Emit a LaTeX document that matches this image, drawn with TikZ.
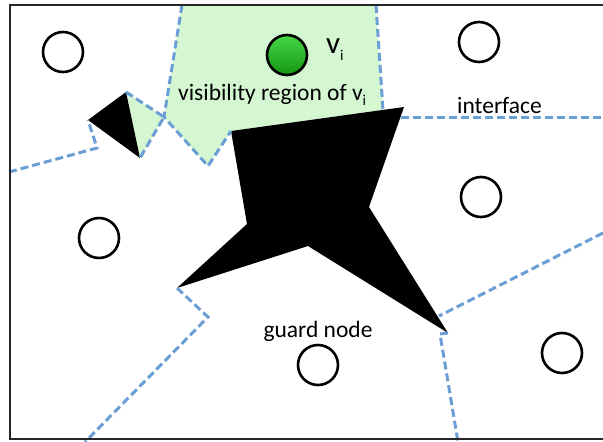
\documentclass[tikz,border=0pt]{standalone}
\usepackage{fontspec}
\setmainfont{Carlito}
\definecolor{ifblue}{RGB}{108,158,214}
\definecolor{visgreen}{RGB}{212,247,210}
\definecolor{guardtop}{RGB}{70,215,70}
\definecolor{guardbot}{RGB}{20,150,20}
% lowered subscript: size, drop, text
\newcommand{\lowsub}[3]{\raisebox{-#2}{\fontsize{#1}{#1}\selectfont #3}}
\begin{document}
\begin{tikzpicture}[x=1pt,y=-1pt,
  frameline/.style={draw=black!85, line width=2.6pt},
  iface/.style={draw=ifblue, line width=3pt, dash pattern=on 8pt off 4pt},
  obstacle/.style={fill=black},
  region/.style={fill=visgreen},
  site/.style={circle, draw=black, line width=2.6pt, minimum size=40pt, inner sep=0pt, fill=white},
  lbl/.style={font=\fontsize{23.5}{26}\selectfont, inner sep=0pt},
]
\useasboundingbox (0,0) rectangle (603,442);
\fill[white] (0,0) rectangle (603,442);

% shared vertices
\coordinate (gtl) at (182,5);
\coordinate (gtr) at (376,5);
\coordinate (gbr) at (383,110);
\coordinate (pa) at (231,131);
\coordinate (pb) at (404,107);
\coordinate (pc) at (369,207);
\coordinate (pd) at (448,333);
\coordinate (pe) at (308,246);
\coordinate (pf) at (177,288);
\coordinate (pg) at (247,224);
\coordinate (notch) at (208,166);
\coordinate (fork) at (164,117);
\coordinate (ta) at (88,120);
\coordinate (tb) at (126,92);
\coordinate (tc) at (140,158);

\begin{scope}
\clip (0,0) rectangle (603,442);
% visibility region
\fill[region] (gtl) -- (gtr) -- (gbr) -- (pa) -- (notch) -- (fork) -- cycle;
\fill[region] (tb) -- (fork) -- (tc) -- cycle;
% obstacles
\fill[obstacle] (pa) -- (pb) -- (pc) -- (pd) -- (pe) -- (pf) -- (pg) -- cycle;
\fill[obstacle] (ta) -- (tb) -- (tc) -- cycle;
% interfaces between regions
\draw[iface] (gtl) -- (fork) -- (notch) -- (pa);
\draw[iface] (gtr) -- (gbr);
\draw[iface] (tb) -- (fork) -- (tc);
\draw[iface] (9,172) -- (97,148) -- (ta);
\draw[iface] (401,117) -- (603,117);
\draw[iface] (pf) -- (208,317) -- (85,442);
\draw[iface] (603,233) -- (439,316);
\draw[iface] (pd) -- (440,334) -- (458,442);
% outer frame
\draw[frameline] (620,5) -- (10,5) -- (10,439) -- (620,439);
\end{scope}

% guard nodes
\node[site] (g1) at (63,52) {};
\node[site, draw=black, top color=guardtop, bottom color=guardbot] (gv) at (287,55) {};
\node[site] (g2) at (479,42) {};
\node[site] (g3) at (481,197) {};
\node[site] (g4) at (99,238) {};
\node[site] (g5) at (318,365) {};
\node[site] (g6) at (562,353) {};

% labels
\node[font=\fontsize{31}{33}\selectfont, inner sep=0pt, anchor=base west] (vname) at (326,53) {v\lowsub{15}{7pt}{i}};
\node[lbl, anchor=base west] (vislabel) at (178,100) {visibility region of v\lowsub{15}{5pt}{i}};
\node[lbl, anchor=base west] (iflabel) at (457,113) {interface};
\node[lbl, anchor=base] (guardlabel) at (318,337) {guard node};
\end{tikzpicture}
\end{document}
